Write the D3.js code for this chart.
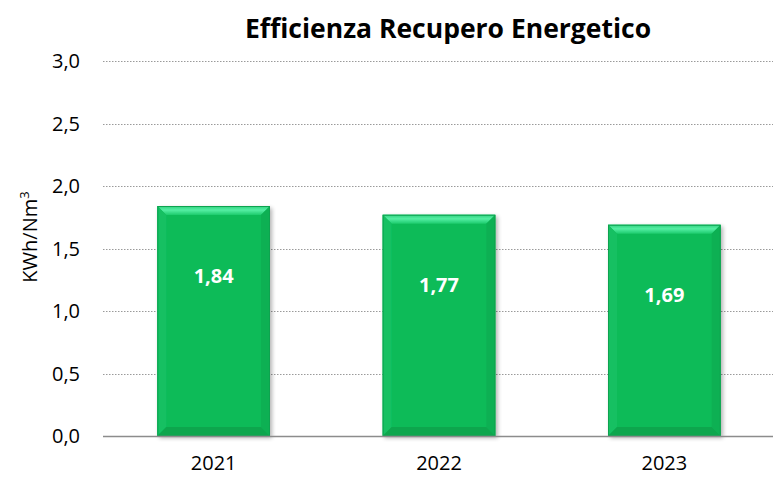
<!DOCTYPE html>
<html><head><meta charset="utf-8">
<script src="https://cdn.jsdelivr.net/npm/d3@7"></script>
<style>body{margin:0;background:#fff}svg{display:block}</style>
</head><body><svg id="c" width="773" height="477"></svg>
<script>
const categories = ["2021", "2022", "2023"];
const values = [1.84, 1.77, 1.69];
const yTicks = [0, 0.5, 1.0, 1.5, 2.0, 2.5, 3.0];
const title = "Efficienza Recupero Energetico";
const yLabel = "KWh/Nm";

const svg = d3.select("#c");
const font = "'Open Sans', sans-serif";
const W = 773, H = 477;
const m = {left: 101, right: -4, top: 61, bottom: 41};
const x = d3.scaleBand().domain(categories).range([m.left, W - m.right]).paddingInner(0.5).paddingOuter(0.25);
const y = d3.scaleLinear().domain([0, 3]).range([H - m.bottom, m.top]);
const fmt = v => d3.format(".1f")(v).replace(".", ",");
const fmt2 = v => d3.format(".2f")(v).replace(".", ",");

const defs = svg.append("defs");
const f = defs.append("filter").attr("id","sh").attr("x","-10%").attr("y","-10%").attr("width","130%").attr("height","130%");
f.append("feGaussianBlur").attr("in","SourceAlpha").attr("stdDeviation",2);
f.append("feOffset").attr("dx",2).attr("dy",2).attr("result","o");
f.append("feComponentTransfer").append("feFuncA").attr("type","linear").attr("slope",0.3);
const mg = f.append("feMerge"); mg.append("feMergeNode"); mg.append("feMergeNode").attr("in","SourceGraphic");
const tg = defs.append("linearGradient").attr("id","tg").attr("x1",0).attr("x2",0).attr("y1",0).attr("y2",1);
tg.append("stop").attr("offset",0).attr("stop-color","#2fd17e");
tg.append("stop").attr("offset",0.45).attr("stop-color","#55eea3");
tg.append("stop").attr("offset",1).attr("stop-color","#1ccb6c");

// gridlines
svg.append("g").selectAll("line").data(yTicks.filter(d => d > 0)).join("line")
  .attr("x1", 103).attr("x2", W).attr("y1", d => Math.round(y(d)) + 0.5).attr("y2", d => Math.round(y(d)) + 0.5)
  .attr("stroke", "#9a9a9a").attr("stroke-width", 1).attr("stroke-dasharray", "1.5,1.5");

// y tick labels
svg.append("g").selectAll("text").data(yTicks).join("text")
  .attr("x", 80).attr("y", d => y(d)).attr("dy", "0.35em").attr("text-anchor", "end")
  .attr("font-family", font).attr("font-size", 20).attr("fill", "#000").text(fmt);

// bars
const bw = x.bandwidth(), b = 9;
const g = svg.append("g").selectAll("g").data(categories).join("g").attr("filter","url(#sh)");
g.append("rect").attr("x", d => x(d)).attr("y", (d,i) => y(values[i])).attr("width", bw)
  .attr("height", (d,i) => y(0) - y(values[i])).attr("fill", "#0dbb59");
// top bevel
g.append("path").attr("fill", "url(#tg)").attr("d", (d,i) => {
  const x0 = x(d), t = y(values[i]);
  return `M${x0},${t}L${x0+bw},${t}L${x0+bw-b},${t+b}L${x0+b},${t+b}Z`;
});
// left bevel
g.append("path").attr("fill", "#14c062").attr("d", (d,i) => {
  const x0 = x(d), t = y(values[i]), bt = y(0);
  return `M${x0},${t}L${x0+b},${t+b}L${x0+b},${bt-b}L${x0},${bt}Z`;
});
// right bevel
g.append("path").attr("fill", "#0bb053").attr("d", (d,i) => {
  const x0 = x(d)+bw, t = y(values[i]), bt = y(0);
  return `M${x0},${t}L${x0-b},${t+b}L${x0-b},${bt-b}L${x0},${bt}Z`;
});
// bottom bevel
g.append("path").attr("fill", "#0aa64e").attr("d", (d,i) => {
  const x0 = x(d), bt = y(0);
  return `M${x0},${bt}L${x0+b},${bt-b}L${x0+bw-b},${bt-b}L${x0+bw},${bt}Z`;
});
g.append("rect").attr("x", d => x(d)+0.5).attr("y", (d,i) => y(values[i])+0.5).attr("width", bw-1)
  .attr("height", (d,i) => y(0) - y(values[i])-1).attr("fill", "none").attr("stroke","#0ca350").attr("stroke-width",1);

// value labels
svg.append("g").selectAll("text").data(categories).join("text")
  .attr("x", d => x(d) + bw/2).attr("y", (d,i) => y(values[i]) + 70).attr("dy","0.35em")
  .attr("text-anchor", "middle").attr("font-family", font).attr("font-weight", "bold")
  .attr("font-size", 20).attr("fill", "#fff").text((d,i) => fmt2(values[i]));

// x axis line
svg.append("line").attr("x1", 103).attr("x2", W).attr("y1", y(0)+0.5).attr("y2", y(0)+0.5)
  .attr("stroke", "#8c8c8c").attr("stroke-width", 1.5);

// x labels
svg.append("g").selectAll("text").data(categories).join("text")
  .attr("x", d => x(d) + bw/2).attr("y", 470).attr("text-anchor","middle")
  .attr("font-family", font).attr("font-size", 20).attr("fill","#000").text(d => d);

// title
svg.append("text").attr("x", 448).attr("y", 29).attr("dy","0.35em").attr("text-anchor","middle")
  .attr("font-family", font).attr("font-weight","bold").attr("font-size", 26.5).attr("fill","#000").text(title);

// y label
const yl = svg.append("text").attr("transform", `translate(37,237) rotate(-90)`)
  .attr("text-anchor","middle").attr("font-family", font).attr("font-size", 20).attr("fill","#000");
yl.append("tspan").text(yLabel);
yl.append("tspan").attr("dy", -8).attr("font-size", 13).text("3");
</script></body></html>
